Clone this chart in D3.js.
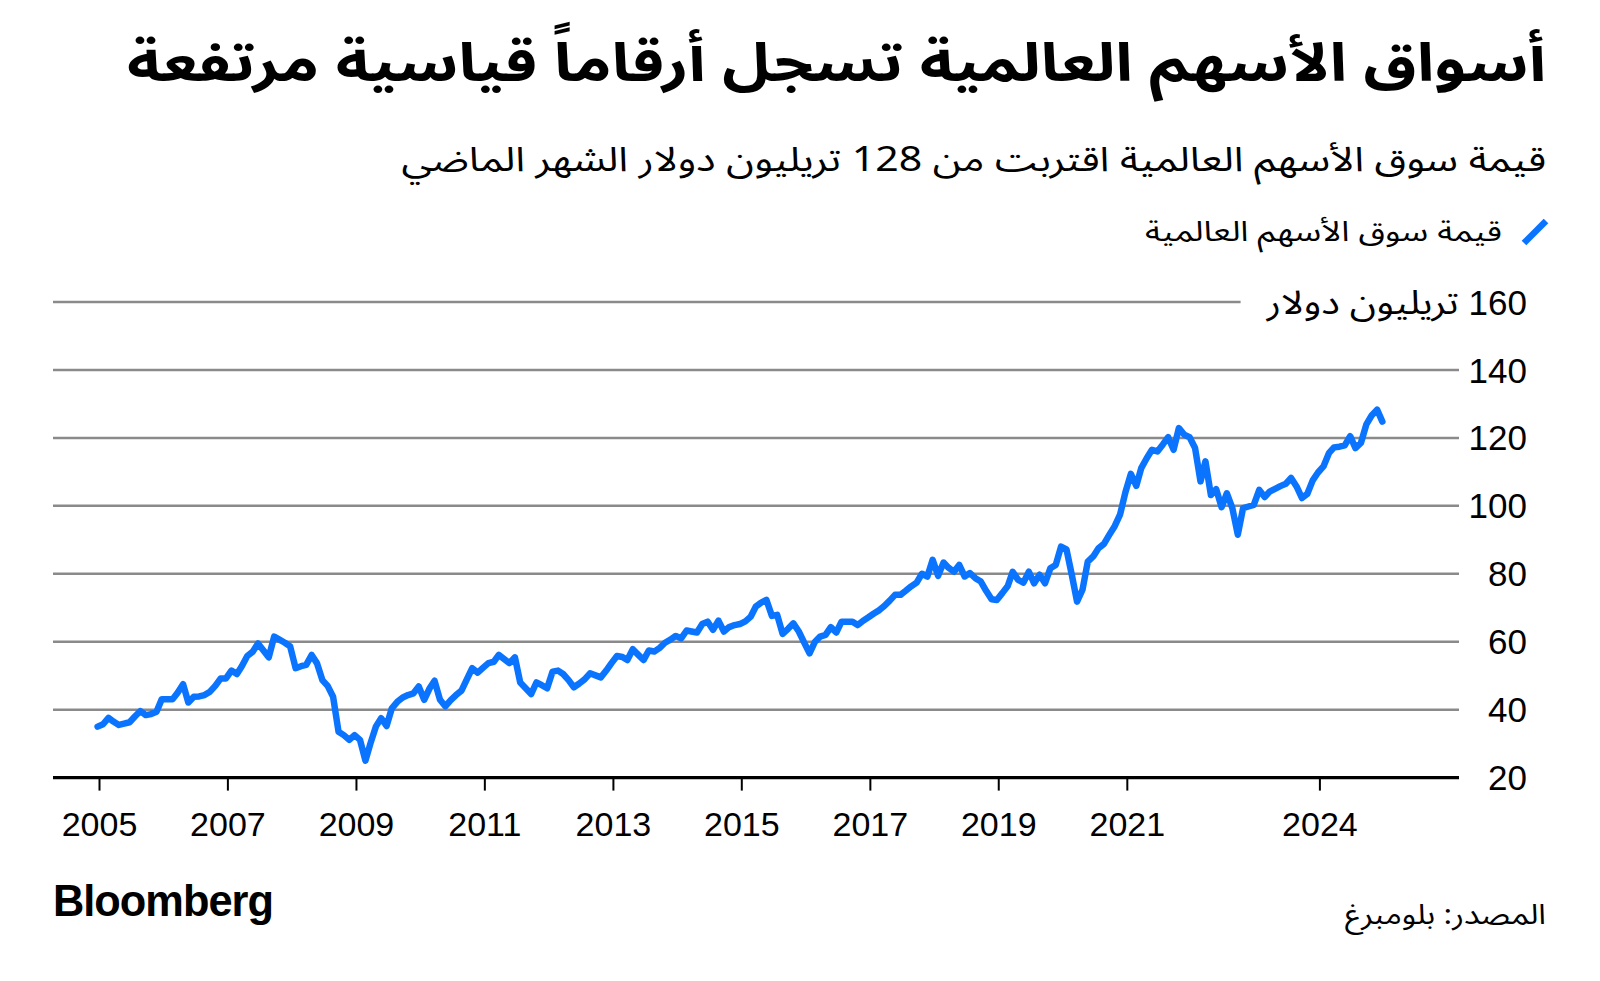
<!DOCTYPE html>
<html lang="ar">
<head>
<meta charset="utf-8">
<script src="https://cdn.jsdelivr.net/npm/d3@7"></script>
<style>
  html, body { margin: 0; padding: 0; background: #ffffff; }
  svg { display: block; }
</style>
</head>
<body>
<svg id="chart" width="1600" height="981"></svg>
<script>
// ---------------- DATA ----------------
const titleText = "أسواق الأسهم العالمية تسجل أرقاماً قياسية مرتفعة";
const subtitleText = "قيمة سوق الأسهم العالمية اقتربت من 128 تريليون دولار الشهر الماضي";
const legendLabel = "قيمة سوق الأسهم العالمية";
const unitLabel = "تريليون دولار";
const sourceText = "المصدر: بلومبرغ";
const brandText = "Bloomberg";

// monthly observations, first one = December 2004
const firstYear = 2004;
const firstMonth = 11; // 0-based (December)
const values = [
  35.0,
  // 2005
  35.7, 37.6, 36.5, 35.5, 35.9, 36.3, 38.0, 39.6, 38.4, 38.7, 39.4, 43.1,
  // 2006
  43.1, 43.1, 45.0, 47.5, 42.1, 43.8, 43.9, 44.3, 45.3, 47.0, 49.2, 49.2,
  // 2007
  51.5, 50.5, 52.8, 55.8, 57.0, 59.5, 57.5, 55.4, 61.5, 60.6, 59.7, 58.6,
  // 2008
  52.2, 52.8, 53.2, 56.1, 53.7, 48.7, 47.0, 43.8, 33.5, 32.5, 31.1, 32.5,
  // 2009
  31.1, 25.0, 30.0, 35.0, 37.5, 35.2, 40.4, 42.3, 43.6, 44.3, 44.8, 46.8,
  // 2010
  42.9, 46.3, 48.5, 42.9, 41.0, 42.8, 44.3, 45.6, 49.0, 52.2, 50.9, 52.3,
  // 2011
  53.7, 54.1, 56.1, 54.9, 53.7, 55.4, 48.0, 46.3, 44.6, 48.0, 47.2, 46.3,
  // 2012
  51.2, 51.5, 50.5, 48.7, 46.6, 47.7, 48.9, 50.7, 50.1, 49.5, 51.5, 53.7,
  // 2013
  55.8, 55.5, 54.6, 57.8, 56.2, 54.6, 57.4, 57.1, 58.2, 59.7, 60.6, 61.7,
  // 2014
  61.0, 63.3, 63.0, 62.7, 65.2, 65.9, 63.5, 66.2, 63.0, 64.3, 64.9, 65.2,
  // 2015
  66.0, 67.4, 70.3, 71.5, 72.3, 67.6, 67.9, 62.3, 63.8, 65.4, 63.0, 59.8,
  // 2016
  56.6, 60.0, 61.5, 62.0, 64.3, 62.7, 65.9, 65.9, 65.9, 64.9, 66.2, 67.2,
  // 2017
  68.3, 69.3, 70.5, 72.1, 73.8, 73.8, 75.0, 76.3, 77.4, 80.0, 79.2, 84.1,
  // 2018
  79.4, 83.3, 81.8, 80.6, 82.6, 79.2, 80.2, 78.7, 77.7, 75.0, 72.5, 72.3,
  // 2019
  74.3, 76.4, 80.6, 78.2, 77.4, 80.6, 77.2, 79.7, 77.2, 81.6, 82.6, 88.0,
  // 2020
  87.2, 79.5, 71.8, 75.3, 83.6, 85.1, 87.5, 88.8, 91.5, 94.0, 97.5, 104.0,
  // 2021
  109.4, 105.9, 111.1, 114.0, 116.5, 116.0, 118.0, 120.2, 116.5, 122.9, 120.9, 120.2,
  // 2022
  117.0, 107.2, 113.1, 103.2, 104.9, 99.6, 103.7, 99.3, 91.5, 99.3, 99.8, 100.3,
  // 2023
  104.7, 102.6, 104.2, 105.0, 105.8, 106.5, 108.2, 105.7, 102.3, 103.5, 107.5, 109.8,
  // 2024
  111.6, 115.5, 117.2, 117.4, 117.8, 120.5, 117.0, 118.5, 124.0, 126.6, 128.3, 124.8
];

const yTicks = [20, 40, 60, 80, 100, 120, 140, 160];
const xTickYears = [2005, 2007, 2009, 2011, 2013, 2015, 2017, 2019, 2021, 2024];

// ---------------- LAYOUT / STYLE ----------------
const W = 1600, H = 981;
const plotLeft = 53, plotRight = 1459;
const lineColor = "#0b74ff";
const arabicFont = "'Noto Sans Arabic', 'Noto Naskh Arabic', 'DejaVu Sans', 'Noto Sans', sans-serif";
const latinFont = "'Liberation Sans', Arial, 'Helvetica Neue', sans-serif";

const svg = d3.select("#chart");
svg.append("rect").attr("width", W).attr("height", H).attr("fill", "#ffffff");

const series = values.map((v, k) => ({ date: new Date(firstYear, firstMonth + k, 24), value: v }));

const x = d3.scaleTime()
  .domain([new Date(2005, 0, 1), new Date(2024, 0, 1)])
  .range([99, 1319.4]);
const y = d3.scaleLinear().domain([20, 160]).range([777.6, 302]);

// Fit an RTL text element so that its right edge sits at xRight and spans `target` px.
function fitRight(sel, xRight, target) {
  const b = sel.node().getBBox();
  const s = target ? target / b.width : 1;
  sel.attr("transform", `translate(${xRight},0) scale(${s},1) translate(${-(b.x + b.width)},0)`);
}

// ---------------- TITLES ----------------
let titleY = 86, subY = 166;
const title = svg.append("text")
  .attr("x", 1546).attr("y", titleY)
  .attr("direction", "rtl").attr("text-anchor", "start")
  .attr("font-family", arabicFont).attr("font-weight", 700)
  .attr("font-size", 53).attr("fill", "#000")
  .text(titleText);

const subtitle = svg.append("text")
  .attr("x", 1546).attr("y", subY)
  .attr("direction", "rtl").attr("text-anchor", "start")
  .attr("font-family", arabicFont).attr("font-weight", 400)
  .attr("font-size", 34).attr("fill", "#000")
  .text(subtitleText);

// keep the two text boxes apart (font boxes are taller than the glyphs)
{
  const tb = title.node().getBBox();
  const sb = subtitle.node().getBBox();
  const overlap = (tb.y + tb.height) - sb.y;
  if (overlap > -2) {
    const shift = overlap / 2 + 2;
    title.attr("y", titleY - shift);
    subtitle.attr("y", subY + shift);
  }
}
fitRight(title, 1546, 1419);
fitRight(subtitle, 1546, 1145);

// ---------------- LEGEND ----------------
svg.append("line")
  .attr("x1", 1524).attr("y1", 243).attr("x2", 1546).attr("y2", 221)
  .attr("stroke", lineColor).attr("stroke-width", 6.5).attr("stroke-linecap", "butt");
const legendText = svg.append("text")
  .attr("x", 1502).attr("y", 241)
  .attr("direction", "rtl").attr("text-anchor", "start")
  .attr("font-family", arabicFont).attr("font-size", 28).attr("fill", "#000")
  .text(legendLabel);
fitRight(legendText, 1502, 357);

// ---------------- Y AXIS ----------------
const yLabelG = svg.append("g");
yLabelG.selectAll("text.ytick").data(yTicks).join("text")
  .attr("class", "ytick")
  .attr("x", 1527).attr("y", d => y(d)).attr("dy", "0.36em")
  .attr("text-anchor", "end")
  .attr("font-family", latinFont).attr("font-size", 35).attr("fill", "#000")
  .text(d => d);

const topTick = yLabelG.selectAll("text.ytick").filter(d => d === 160);
const topBox = topTick.node().getBBox();
const unit = svg.append("text")
  .attr("x", topBox.x - 10).attr("y", y(160)).attr("dy", "0.36em")
  .attr("direction", "rtl").attr("text-anchor", "start")
  .attr("font-family", arabicFont).attr("font-size", 33).attr("fill", "#000")
  .text(unitLabel);
fitRight(unit, topBox.x - 10, 193);
const unitLeft = topBox.x - 10 - 193;

const grid = svg.append("g");
grid.selectAll("line").data(yTicks.filter(d => d !== 20)).join("line")
  .attr("x1", plotLeft)
  .attr("x2", d => d === 160 ? unitLeft - 25 : plotRight)
  .attr("y1", d => y(d)).attr("y2", d => y(d))
  .attr("stroke", "#8a8a8a").attr("stroke-width", 2.5);

// ---------------- X AXIS ----------------
const xAxis = d3.axisBottom(x)
  .tickValues(xTickYears.map(yr => new Date(yr, 0, 1)))
  .tickSize(13).tickPadding(21)
  .tickFormat(d3.timeFormat("%Y"));
const xg = svg.append("g").attr("transform", `translate(0,${y(20)})`).call(xAxis);
xg.select(".domain").remove();
xg.selectAll(".tick line").attr("stroke", "#000").attr("stroke-width", 2);
xg.selectAll(".tick text")
  .attr("font-family", latinFont).attr("font-size", 34).attr("fill", "#000");

svg.append("line")
  .attr("x1", plotLeft).attr("x2", plotRight)
  .attr("y1", y(20)).attr("y2", y(20))
  .attr("stroke", "#000").attr("stroke-width", 3.2);

// ---------------- LINE ----------------
const lineGen = d3.line().x(d => x(d.date)).y(d => y(d.value));
svg.append("path").datum(series)
  .attr("d", lineGen)
  .attr("fill", "none").attr("stroke", lineColor)
  .attr("stroke-width", 6.5).attr("stroke-linejoin", "round").attr("stroke-linecap", "round");

// ---------------- FOOTER ----------------
const brand = svg.append("text")
  .attr("x", 53).attr("y", 916)
  .attr("font-family", latinFont).attr("font-weight", 700)
  .attr("font-size", 44).attr("letter-spacing", -1).attr("fill", "#000")
  .text(brandText);
{
  const b = brand.node().getBBox();
  const s = 220 / b.width;
  brand.attr("transform", `translate(53,0) scale(${s},1) translate(${-b.x},0)`);
}

const source = svg.append("text")
  .attr("x", 1546).attr("y", 924)
  .attr("direction", "rtl").attr("text-anchor", "start")
  .attr("font-family", arabicFont).attr("font-size", 28).attr("fill", "#000")
  .text(sourceText);
fitRight(source, 1546, 201);
</script>
</body>
</html>
